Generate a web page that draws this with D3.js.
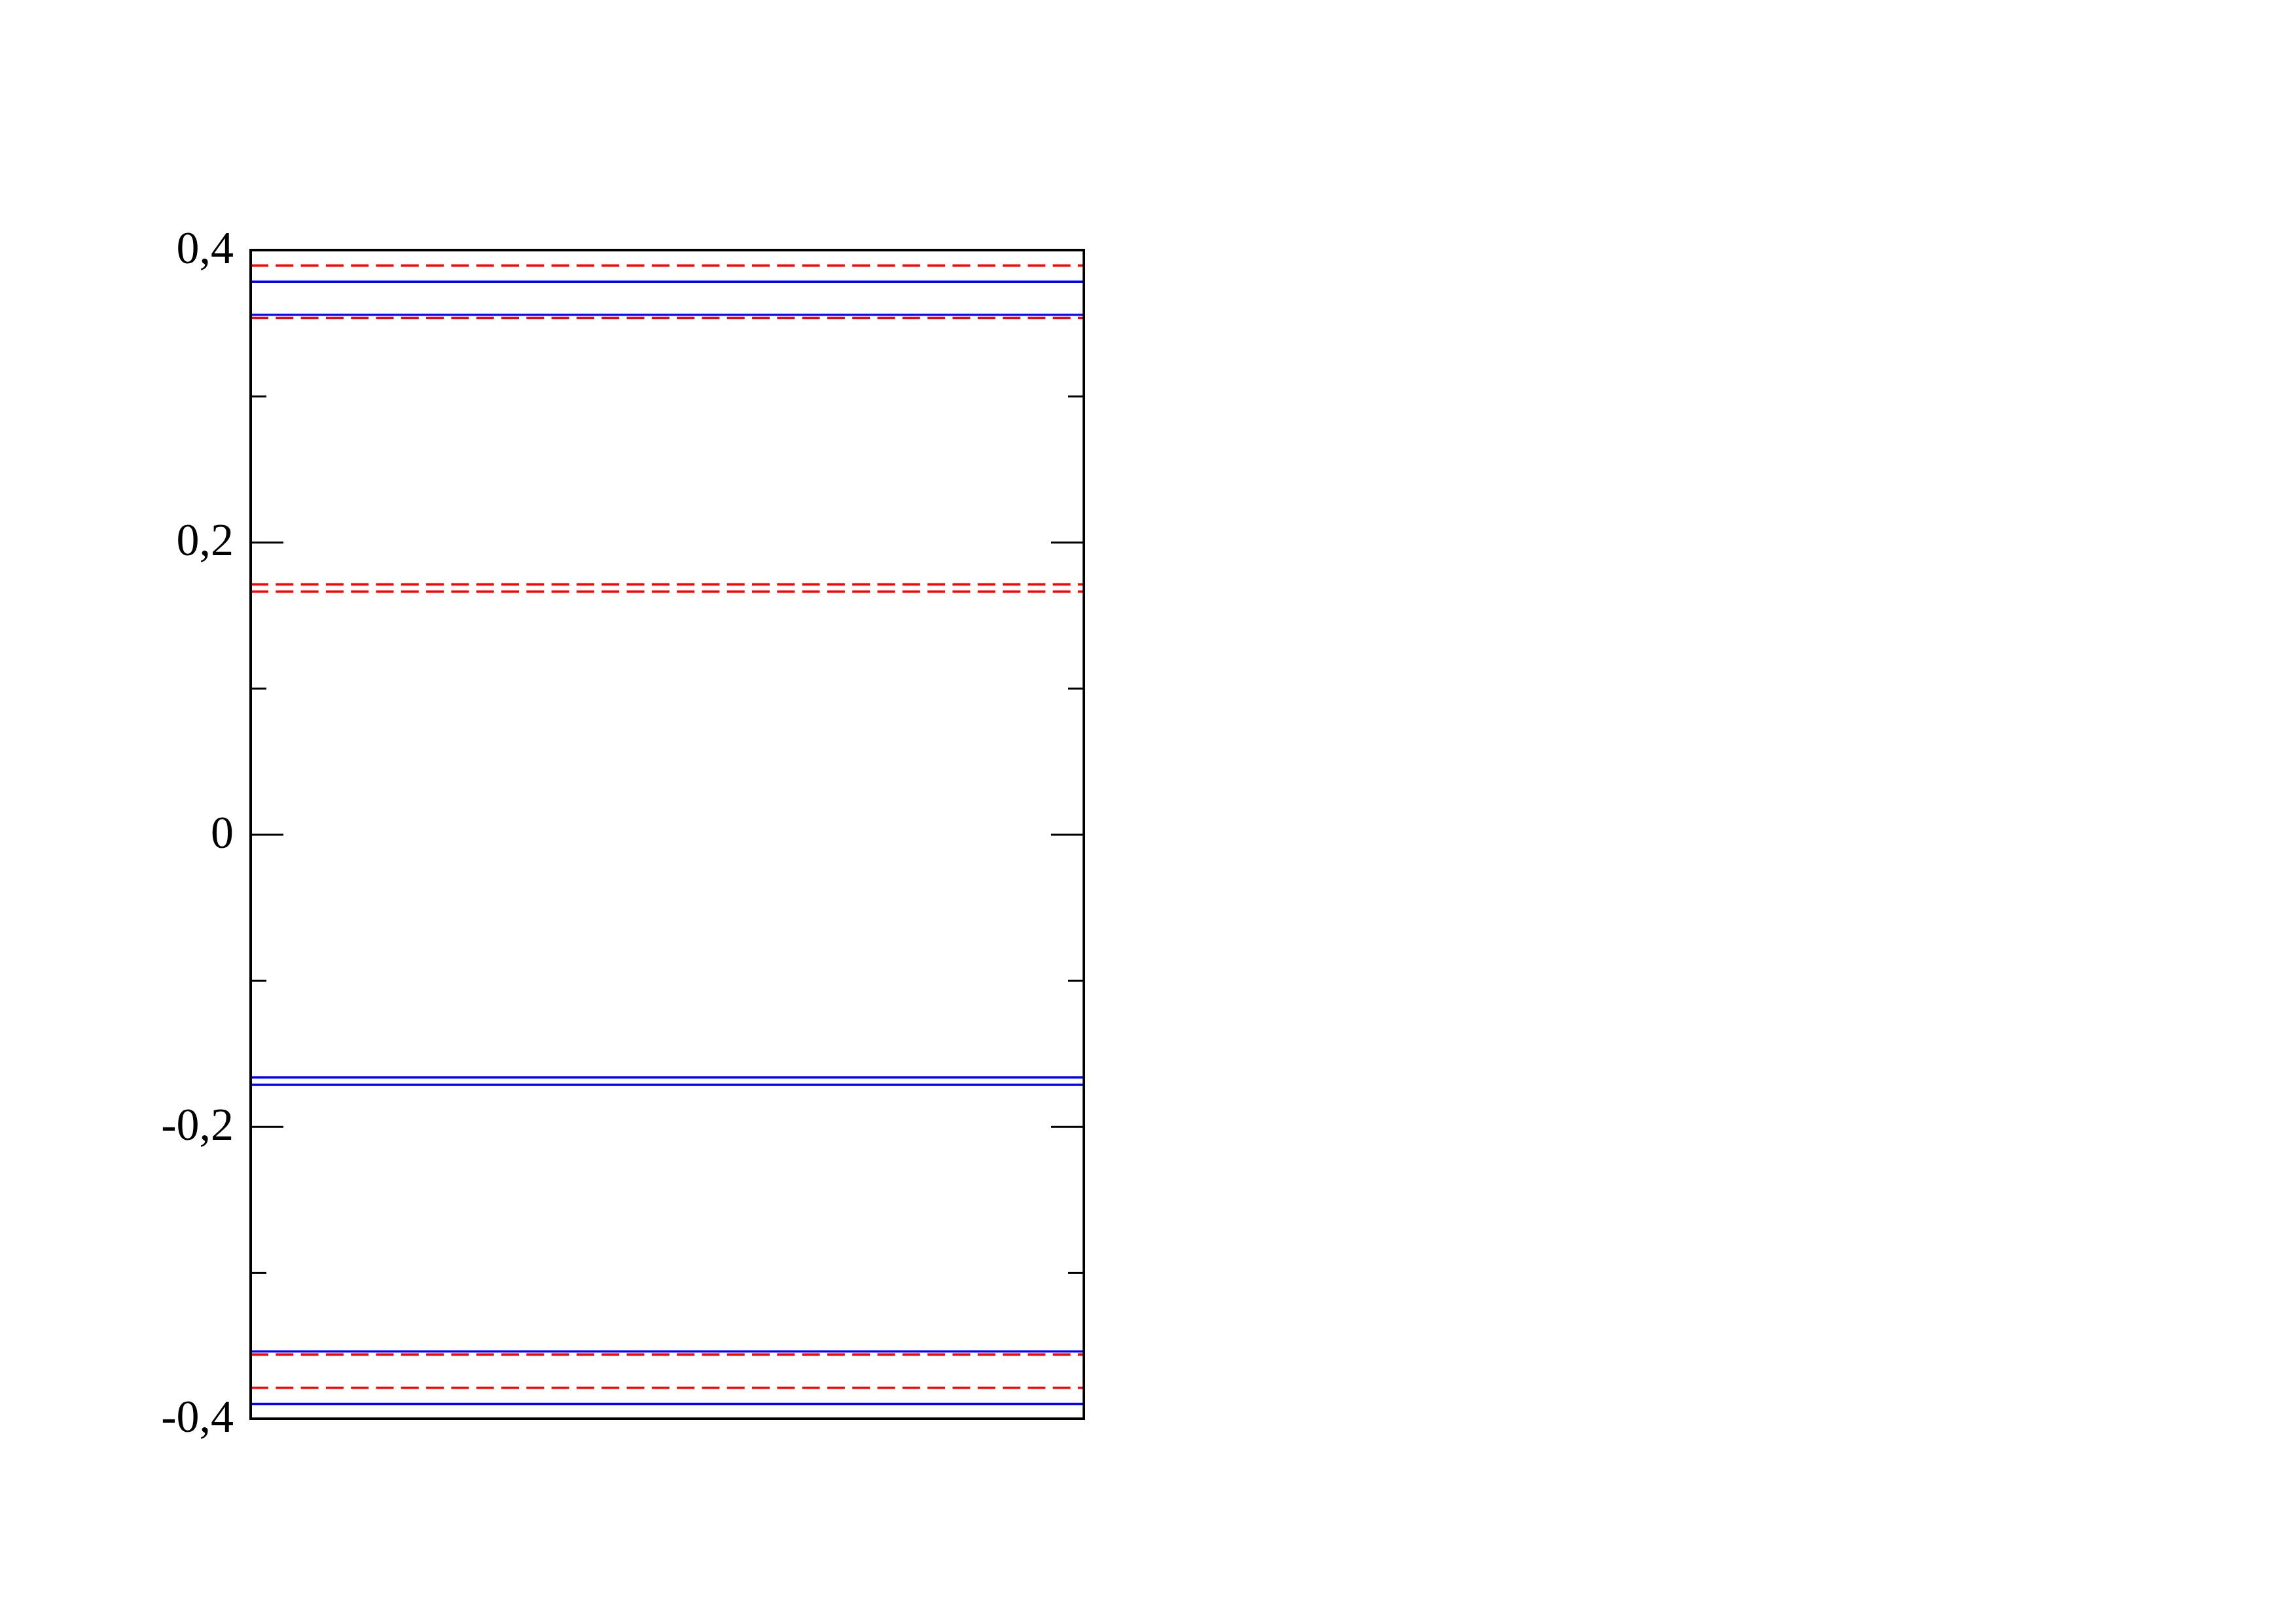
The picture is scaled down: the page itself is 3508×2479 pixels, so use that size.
<!DOCTYPE html>
<html>
<head>
<meta charset="utf-8">
<script src="https://cdn.jsdelivr.net/npm/d3@7"></script>
<style>
html,body{margin:0;padding:0;background:#fff;}
svg{display:block;}
</style>
</head>
<body>
<script>
// Data
const blueLevels = [0.3784, 0.3557, -0.1664, -0.1714, -0.3539, -0.3899];
const redLevels  = [0.3894, 0.3536, 0.1711, 0.1662, -0.3561, -0.3788];
const majorTicks = [-0.4, -0.2, 0, 0.2, 0.4];
const minorTicks = [-0.3, -0.1, 0.1, 0.3];
const yDomain = [-0.4, 0.4];

(function () {
const W = 3508, H = 2479;
const mLeft = 383, mRight = 1656, mTop = 382, mBottom = 2167;

const svg = d3.select("body").append("svg")
  .attr("width", W).attr("height", H)
  .attr("viewBox", `0 0 ${W} ${H}`);

const x = d3.scaleLinear().domain([0, 1]).range([mLeft, mRight]);
const y = d3.scaleLinear().domain(yDomain).range([mBottom, mTop]);

const loc = d3.formatLocale({decimal: ",", thousands: ".", grouping: [3], currency: ["", ""], minus: "-"});
const fmt = v => v === 0 ? "0" : loc.format(".1f")(v);

const font = "'Liberation Serif', 'Times New Roman', serif";

// Level lines
svg.append("g").selectAll("line").data(redLevels).join("line")
  .attr("x1", x(0)).attr("x2", x(1))
  .attr("y1", d => y(d)).attr("y2", d => y(d))
  .attr("stroke", "#ff0000").attr("stroke-width", 3.6)
  .attr("stroke-dasharray", "27 11.3");

svg.append("g").selectAll("line").data(blueLevels).join("line")
  .attr("x1", x(0)).attr("x2", x(1))
  .attr("y1", d => y(d)).attr("y2", d => y(d))
  .attr("stroke", "#0000ff").attr("stroke-width", 3.4);

// Left axis major
const gL = svg.append("g").attr("transform", `translate(${mLeft},0)`)
  .call(d3.axisLeft(y).tickValues(majorTicks).tickSize(-50).tickPadding(26).tickFormat(fmt));
gL.select(".domain").remove();
gL.selectAll(".tick line").attr("stroke", "#000").attr("stroke-width", 3);
gL.selectAll(".tick text")
  .attr("font-family", font).attr("font-size", 70).attr("fill", "#000")
  .attr("dy", "0.28em");

const gLm = svg.append("g").attr("transform", `translate(${mLeft},0)`)
  .call(d3.axisLeft(y).tickValues(minorTicks).tickSize(-24).tickFormat(""));
gLm.select(".domain").remove();
gLm.selectAll(".tick line").attr("stroke", "#000").attr("stroke-width", 3);

// Right axis
const gR = svg.append("g").attr("transform", `translate(${mRight},0)`)
  .call(d3.axisRight(y).tickValues(majorTicks).tickSize(-50).tickFormat(""));
gR.select(".domain").remove();
gR.selectAll(".tick line").attr("stroke", "#000").attr("stroke-width", 3);

const gRm = svg.append("g").attr("transform", `translate(${mRight},0)`)
  .call(d3.axisRight(y).tickValues(minorTicks).tickSize(-24).tickFormat(""));
gRm.select(".domain").remove();
gRm.selectAll(".tick line").attr("stroke", "#000").attr("stroke-width", 3);

// Frame
svg.append("rect")
  .attr("x", mLeft).attr("y", mTop)
  .attr("width", mRight - mLeft).attr("height", mBottom - mTop)
  .attr("fill", "none").attr("stroke", "#000").attr("stroke-width", 4);
})();
</script>
</body>
</html>
